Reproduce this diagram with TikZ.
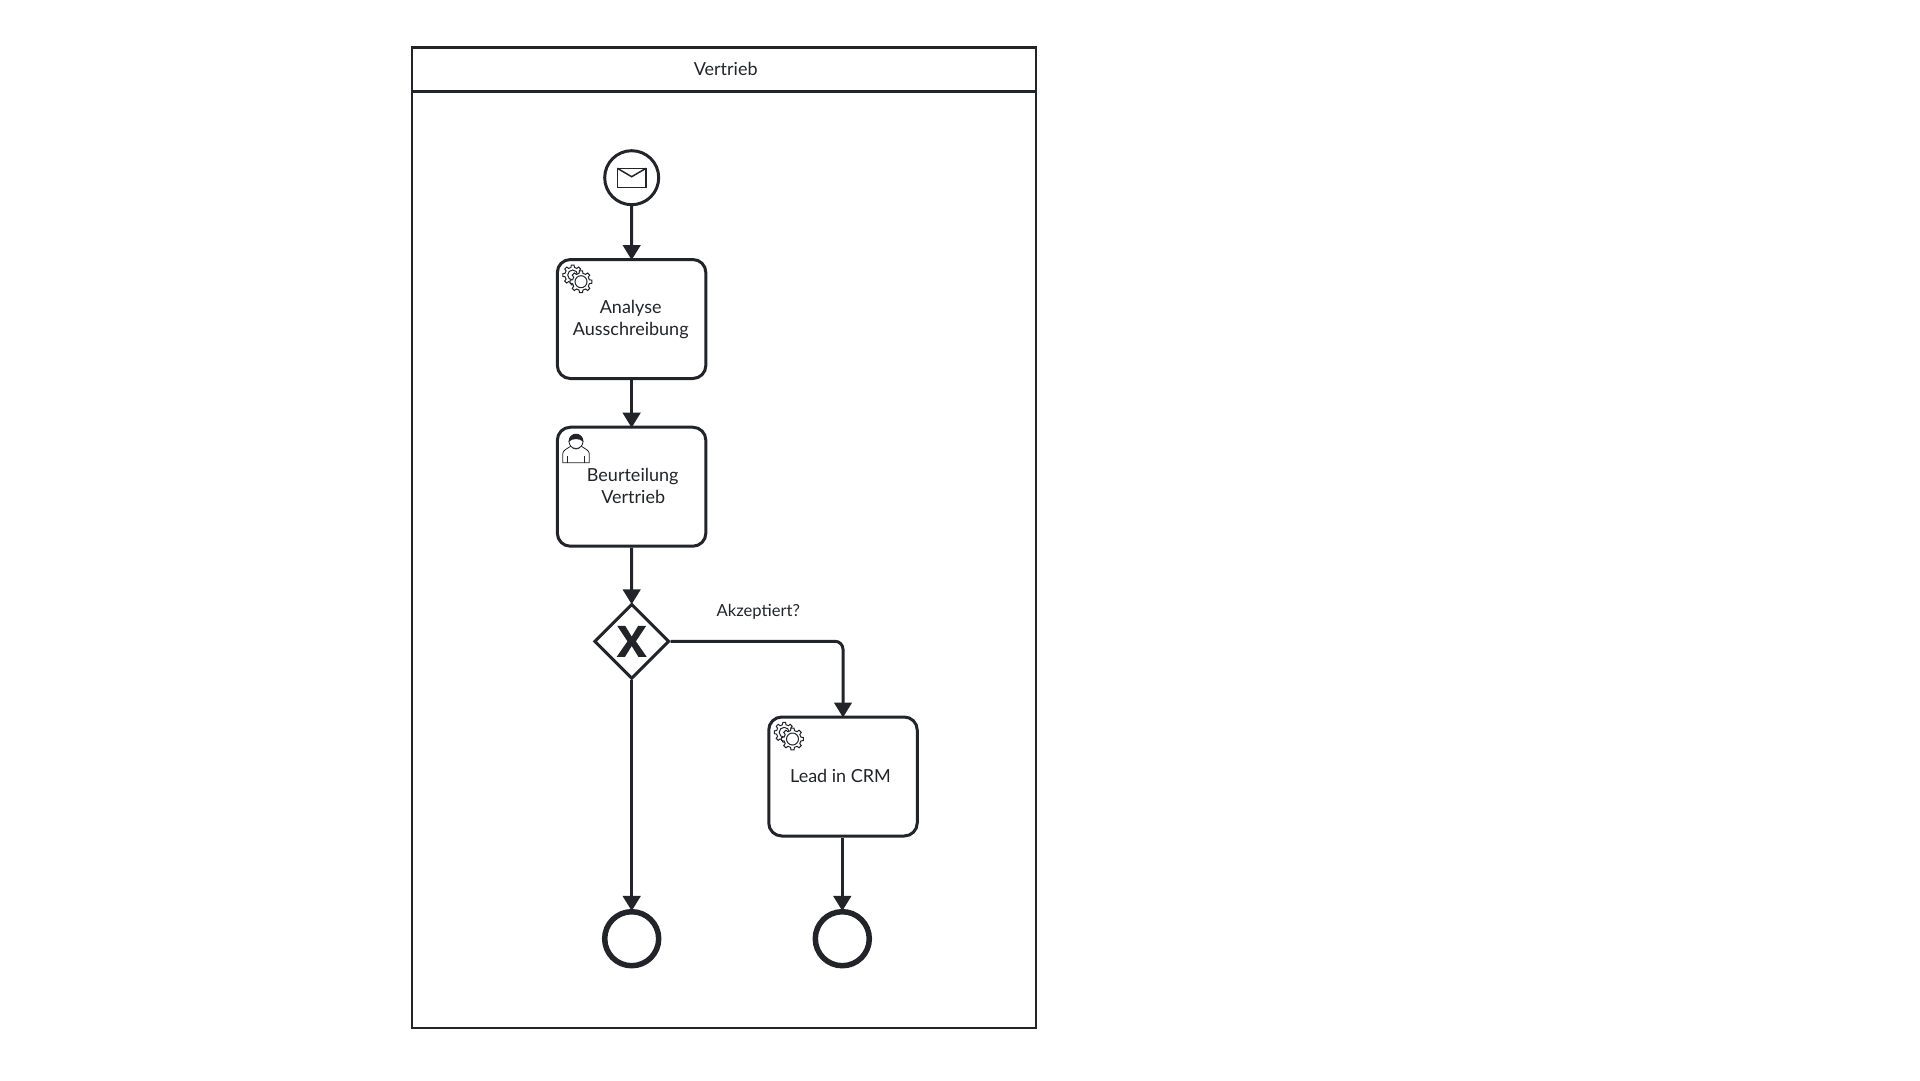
\documentclass[tikz,border=0pt]{standalone}
\usepackage{fontspec}
\setmainfont{Lato}
\usetikzlibrary{arrows.meta, shapes.geometric}
\definecolor{ink}{HTML}{22242A}

\tikzset{
	lane/.style={draw=ink, line width=2.2pt},
	task/.style={draw=ink, line width=3pt, rounded corners=13pt, minimum width=148.5pt, minimum height=119pt, fill=white},
	tasktext/.style={text=ink, font=\fontsize{18}{21.5}\selectfont, align=center, inner sep=0pt},
	startevent/.style={circle, draw=ink, line width=3pt, minimum size=54pt, inner sep=0pt},
	endevent/.style={circle, draw=ink, line width=5.5pt, minimum size=54pt, inner sep=0pt},
	gateway/.style={diamond, aspect=1, draw=ink, line width=3pt, minimum size=75pt, inner sep=0pt},
	flow/.style={draw=ink, line width=3pt, shorten >=-2pt, -{Triangle[length=15pt, width=17.5pt]}},
	gearicon/.pic={
		\foreach \cx/\cy/\ro/\ri/\rc in {-8.3/-6.7/10/7.8/5, 0/0/11/8.6/6} {
			\draw[ink, line width=1pt, fill=white, shift={(\cx,\cy)}] (-13:\ri)
				\foreach \a in {0,45,...,315} { -- (\a-13:\ri) -- (\a-8:\ro) -- (\a+8:\ro) -- (\a+13:\ri) } -- cycle;
			\draw[ink, line width=1pt, shift={(\cx,\cy)}] (0,0) circle (\rc);
		}
	},
	usericon/.pic={
		\draw[ink, line width=0.8pt, fill=white] (-13.3,12.7) -- (-13.3,4) .. controls (-13.3,0) and (-9,-1) .. (-5,-4) .. controls (-3,0) and (3,0) .. (5,-4) .. controls (9,-1) and (13.3,0) .. (13.3,4) -- (13.3,12.7) -- cycle;
		\draw[ink, line width=0.8pt] (-8.5,12.7) -- (-8.5,6) (8.5,12.7) -- (8.5,6);
		\draw[ink, line width=0.8pt, fill=white] (0,-8.5) circle (7);
		\fill[ink] (-7.4,-8) .. controls (-7.4,-19) and (7.4,-19) .. (7.4,-8) .. controls (4,-12) and (-4,-12) .. (-7.4,-8) -- cycle;
	},
}

\begin{document}
\begin{tikzpicture}[x=1pt, y=-1pt]
\useasboundingbox (0,0) rectangle (1920,1080);

% lane
\node[lane, minimum width=623.5pt, minimum height=44pt] (header) at (723.9,69.5) {};
\node[lane, minimum width=623.5pt, minimum height=936.5pt] (body) at (723.9,560) {};
\node[tasktext] (headertext) at (725.7,69.3) {Vertrieb};

% events, tasks and gateway
\node[startevent] (start) at (631.7,177.7) {};
\node[task] (analyse) at (631.6,319) {};
\node[task] (beurteilung) at (631.6,486.7) {};
\node[gateway] (gate) at (631.7,641.3) {};
\node[task] (lead) at (843,776.5) {};
\node[endevent] (endA) at (631.7,938.7) {};
\node[endevent] (endB) at (842.3,938.7) {};

\node[tasktext] (analysetext) at (630.7,319.3) {Analyse\\Ausschreibung};
\node[tasktext] (beurteilungtext) at (632.7,486) {Beurteilung\\\hspace{1pt}Vertrieb};
\node[tasktext] (leadtext) at (840.5,775.7) {Lead in CRM};
\node[tasktext, font=\fontsize{16.6}{19}\selectfont] (question) at (758.3,612) {Akzeptiert?};

% icons
\draw[ink, line width=1.5pt] (617.3,168.3) rectangle (646,187.3);
\draw[ink, line width=1.5pt] (617.3,168.3) -- (631.7,176.7) -- (646,168.3);
\pic at (581,281.7) {gearicon};
\pic at (792.5,739) {gearicon};
\pic at (576,450) {usericon};
\fill[ink] (617.2,625.8) -- (625.2,625.8) -- (631.7,636.6) -- (638.2,625.8) -- (646.2,625.8) -- (635.9,641.3) -- (646.7,656.8) -- (638.4,656.8) -- (631.7,646) -- (625,656.8) -- (616.7,656.8) -- (627.5,641.3) -- cycle;

% flows
\draw[flow] (start) -- (analyse);
\draw[flow] (analyse) -- (beurteilung);
\draw[flow] (beurteilung) -- (gate);
\draw[flow] (gate) -- (endA);
\draw[flow, rounded corners=8pt] (gate.east) -| (lead.north);
\draw[flow] (lead.south -| endB) -- (endB);
\end{tikzpicture}
\end{document}
